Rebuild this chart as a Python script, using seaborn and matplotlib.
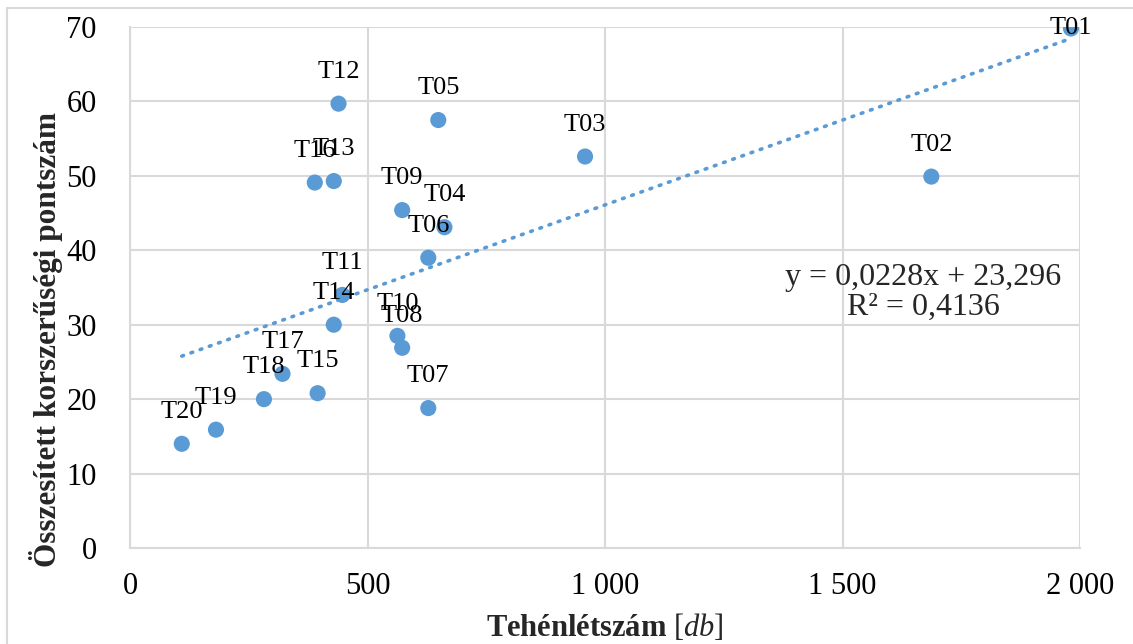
import matplotlib
matplotlib.use("Agg")
import matplotlib.pyplot as plt
import seaborn as sns
import pandas as pd
import numpy as np
from matplotlib.ticker import MultipleLocator, FuncFormatter
from matplotlib.patches import Rectangle

telepek = ["T01", "T02", "T03", "T04", "T05", "T06", "T07", "T08", "T09", "T10",
           "T11", "T12", "T13", "T14", "T15", "T16", "T17", "T18", "T19", "T20"]
tehen = [1981, 1687, 958, 662, 649, 628, 628, 573, 573, 563,
         447, 439, 429, 429, 395, 389, 321, 282, 181, 109]
pontszam = [69.8, 49.9, 52.6, 43.1, 57.5, 39.0, 18.8, 26.9, 45.4, 28.5,
            34.0, 59.7, 49.3, 30.0, 20.8, 49.1, 23.4, 20.0, 15.9, 14.0]
meredekseg = 0.0228
tengely = 23.296
r2 = 0.4136

df = pd.DataFrame({"telep": telepek, "tehen": tehen, "pont": pontszam})

sns.set_style("white")
plt.rcParams["font.family"] = ["Liberation Serif", "DejaVu Serif"]
plt.rcParams["mathtext.fontset"] = "custom"
plt.rcParams["mathtext.rm"] = "Liberation Serif"
plt.rcParams["mathtext.it"] = "Liberation Serif:italic"

kek = "#5B9BD5"
szurke = "#D9D9D9"

fig = plt.figure(figsize=(11.33, 6.44), dpi=100)
ax = fig.add_axes([130 / 1133, 96 / 644, 950 / 1133, 521 / 644])

# trendvonal
tx = np.array([df.tehen.min(), df.tehen.max()])
ax.plot(tx, meredekseg * tx + tengely, color=kek, lw=2.6,
        linestyle=(0, (0.5, 2.2)), dash_capstyle="round", zorder=2)

sns.scatterplot(data=df, x="tehen", y="pont", ax=ax, color=kek, s=135,
                edgecolor="none", zorder=3)

for _, r in df.iterrows():
    # a felső szélen lévő címke (Excel-szerűen) a pontra kerül
    dy = 0 if r.pont > 65 else 23
    ax.annotate(r.telep, (r.tehen, r.pont), xytext=(0, dy), textcoords="offset points",
                ha="center", va="center", fontsize=19, color="black", zorder=4)

ax.set_xlim(0, 2000)
ax.set_ylim(0, 70)
ax.xaxis.set_major_locator(MultipleLocator(500))
ax.xaxis.set_minor_locator(MultipleLocator(100))
ax.yaxis.set_major_locator(MultipleLocator(10))
ax.yaxis.set_minor_locator(MultipleLocator(2))
ax.xaxis.set_major_formatter(FuncFormatter(lambda v, p: f"{int(v):,}".replace(",", " ")))

ax.grid(True, which="major", color=szurke, lw=1.5)
for s in ["top", "right"]:
    ax.spines[s].set_visible(False)
for s in ["left", "bottom"]:
    ax.spines[s].set_color(szurke)
    ax.spines[s].set_linewidth(1.5)

ax.tick_params(axis="both", which="major", direction="inout", length=12, width=1.5,
               color=szurke, labelsize=22, labelcolor="black")
ax.tick_params(axis="both", which="minor", direction="out", length=6, width=1.5,
               color=szurke)
ax.tick_params(axis="x", which="major", pad=11)
ax.tick_params(axis="y", which="major", pad=18)

ax.set_xlabel(r"Tehénlétszám $\mathit{[db]}$", fontsize=22, fontweight="bold")
ax.set_ylabel("Összesített korszerűségi pontszám", fontsize=22.5, fontweight="bold")
ax.xaxis.set_label_coords(0.5, -0.152)
ax.yaxis.set_label_coords(-0.088, 0.40)
ax.xaxis.label.set_va("center")
ax.yaxis.label.set_va("center")

ax.text(1670, 34.3, f"y = {meredekseg:.4f}x + {tengely:.3f}".replace(".", ",")
        + "\n" + f"R² = {r2:.4f}".replace(".", ","),
        ha="center", va="center", fontsize=23, linespacing=1.05, zorder=4)

fig.patches.append(Rectangle((7 / 1133, -0.01), 1.5, 1.0 - 8 / 644 + 0.01,
                             transform=fig.transFigure, fill=False,
                             edgecolor=szurke, lw=1.5))

fig.savefig("out.png", dpi=100)
